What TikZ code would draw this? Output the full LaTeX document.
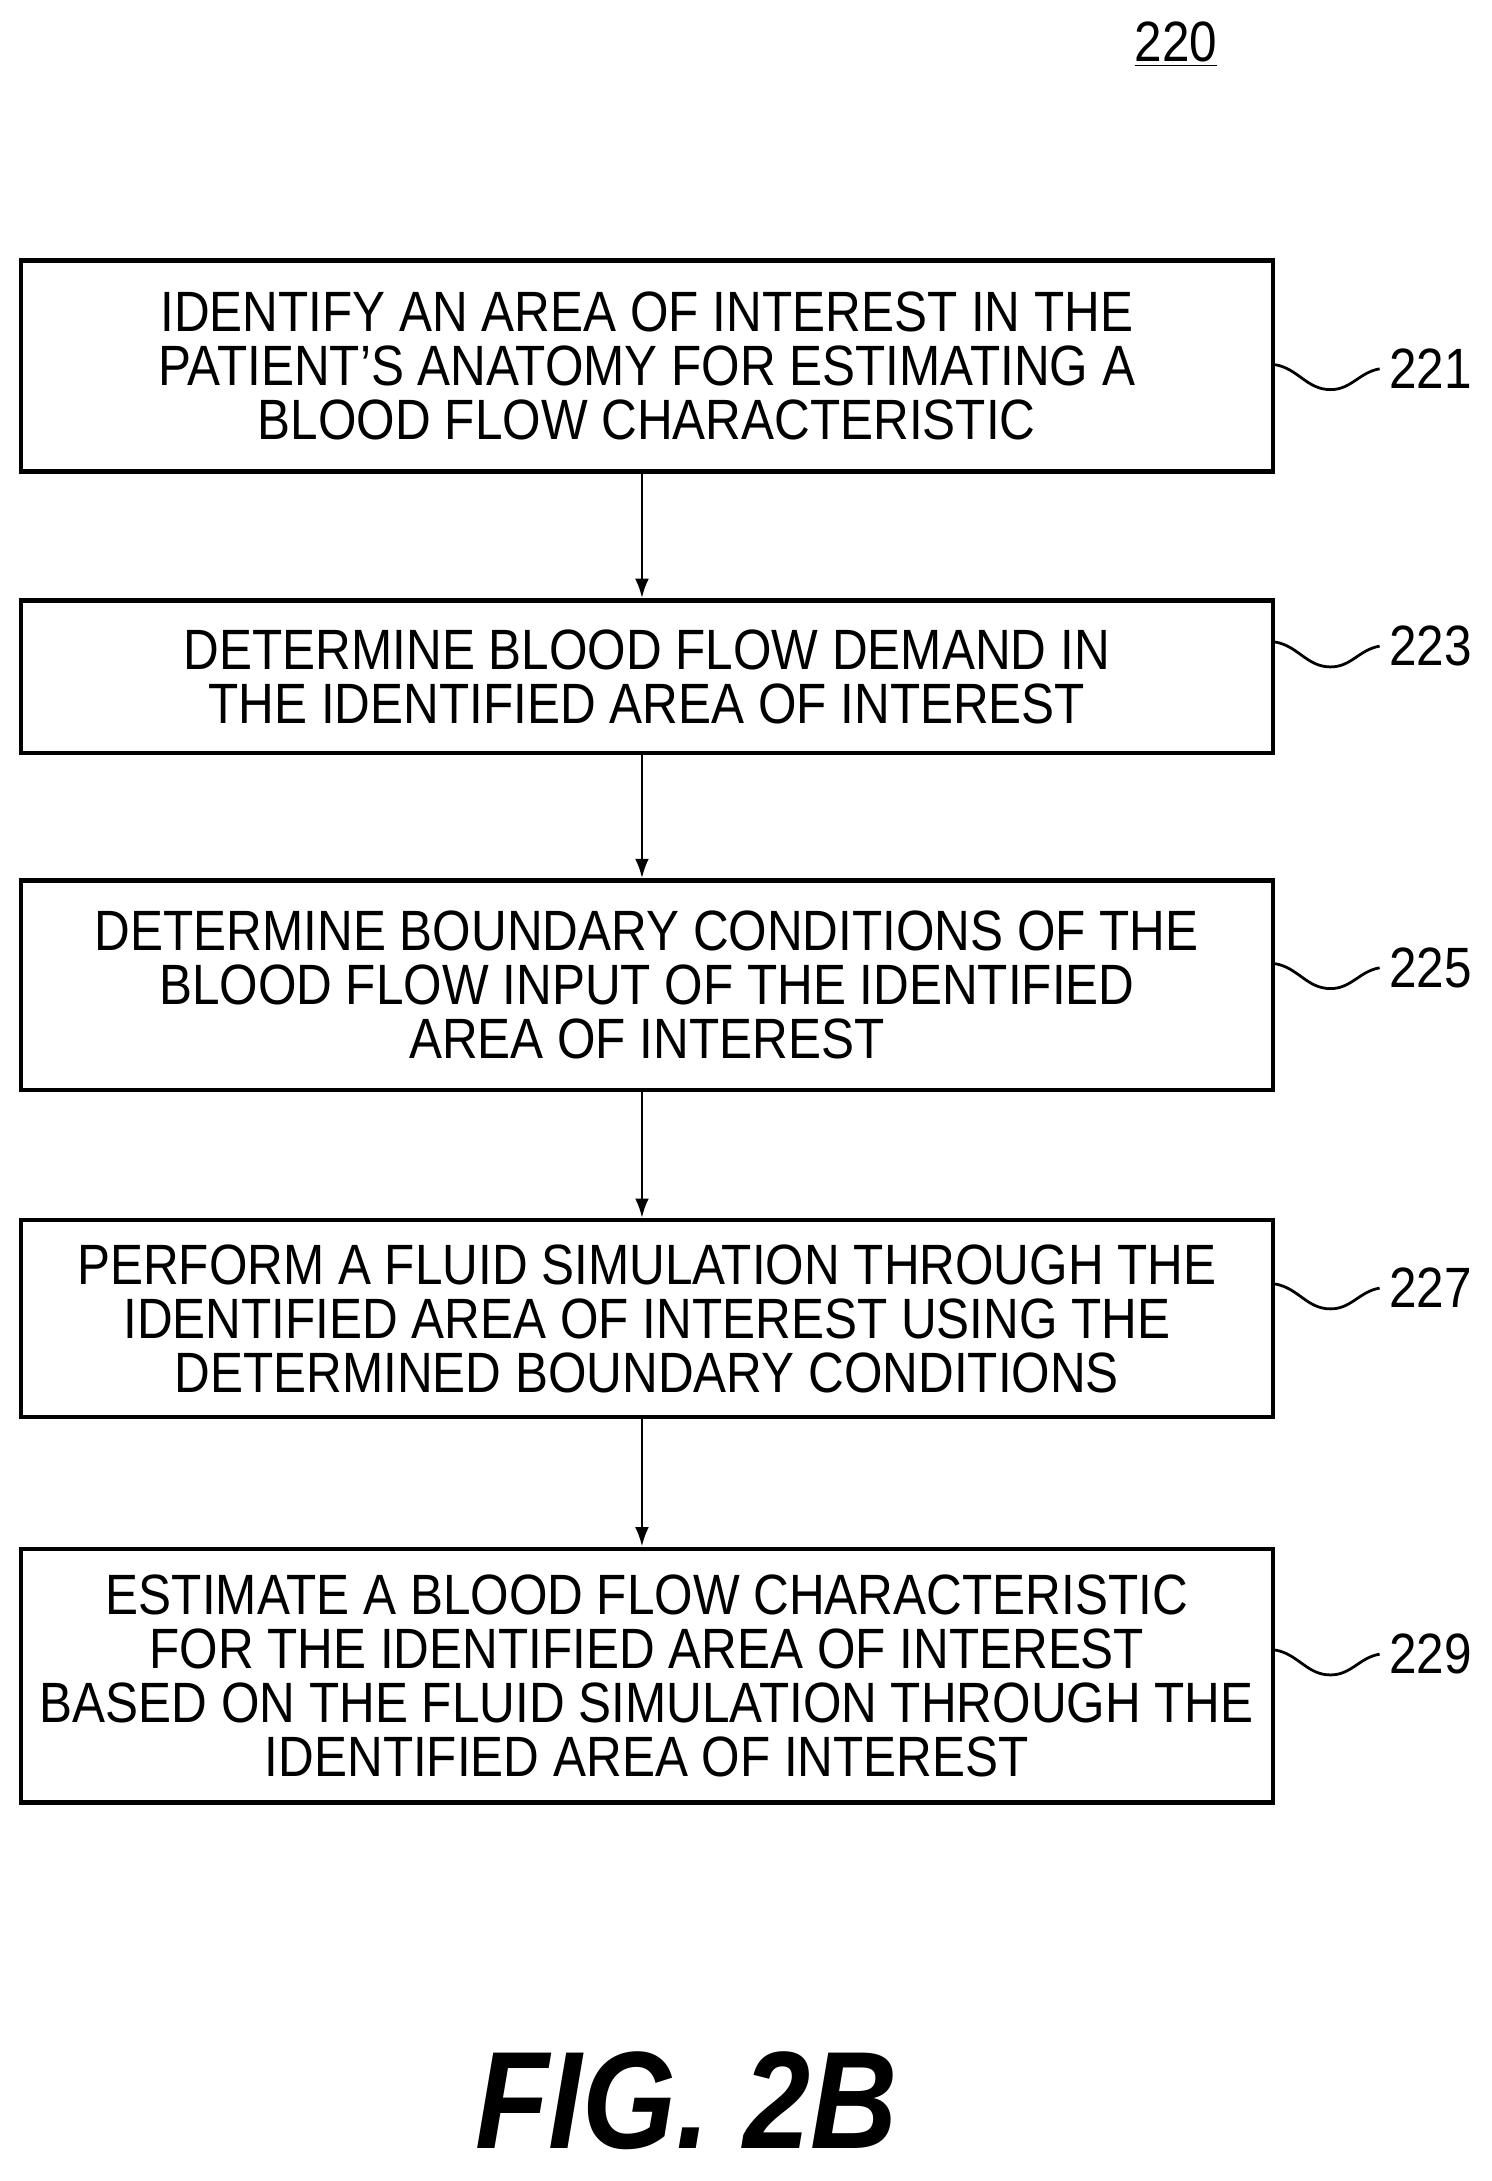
\documentclass[tikz,border=0pt]{standalone}
\usepackage{fontspec}
\setmainfont[FakeStretch=0.87]{Liberation Sans}
\usetikzlibrary{arrows.meta}
\begin{document}
\begin{tikzpicture}[x=0.5pt,y=0.5pt,
  box/.style={draw,line width=1.6pt,minimum width=451.5pt,align=center,inner sep=0pt,
    font=\fontsize{20.5}{19.5}\selectfont},
  arr/.style={-{Latex[length=7pt,width=5pt]},line width=1pt},
  sq/.style={line width=1pt},
  lab/.style={font=\fontsize{20.5}{20}\selectfont,anchor=west}]
\useasboundingbox (0,0) rectangle (1076,-1573);
\node[box,minimum height=76pt] (b1) at (466.5,-264) {IDENTIFY AN AREA OF INTEREST IN THE\\PATIENT'S ANATOMY FOR ESTIMATING A\\BLOOD FLOW CHARACTERISTIC};
\node[box,minimum height=55pt] (b2) at (466.5,-488) {DETERMINE BLOOD FLOW DEMAND IN\\THE IDENTIFIED AREA OF INTEREST};
\node[box,minimum height=75.5pt] (b3) at (466.5,-710.5) {DETERMINE BOUNDARY CONDITIONS OF THE\\BLOOD FLOW INPUT OF THE IDENTIFIED\\AREA OF INTEREST};
\node[box,minimum height=71pt] (b4) at (466.5,-951) {PERFORM A FLUID SIMULATION THROUGH THE\\IDENTIFIED AREA OF INTEREST USING THE\\DETERMINED BOUNDARY CONDITIONS};
\node[box,minimum height=91.5pt] (b5) at (466.5,-1208.5) {ESTIMATE A BLOOD FLOW CHARACTERISTIC\\FOR THE IDENTIFIED AREA OF INTEREST\\BASED ON THE FLUID SIMULATION THROUGH THE\\IDENTIFIED AREA OF INTEREST};
\draw[arr] (b1.south -| 463,0) -- (b2.north -| 463,0);
\draw[arr] (b2.south -| 463,0) -- (b3.north -| 463,0);
\draw[arr] (b3.south -| 463,0) -- (b4.north -| 463,0);
\draw[arr] (b4.south -| 463,0) -- (b5.north -| 463,0);
\foreach \n/\b/\y in {221/b1/266,223/b2/466,225/b3/698,227/b4/929,229/b5/1193}{
  \node[lab] (l\n) at (995,-\y) {\n};
  \draw[sq] (\b.east |- 0,-\y) ++(0,3) to[out=-10,in=180] ++(40,-18) to[out=0,in=190] (l\n.west);
}
\node[font=\fontsize{20.5}{20}\selectfont] (t) at (848,-32) {\underline{220}};
\node[font=\fontsize{50}{50}\selectfont\bfseries\itshape] (f) at (495,-1515) {FIG. 2B};
\end{tikzpicture}
\end{document}
